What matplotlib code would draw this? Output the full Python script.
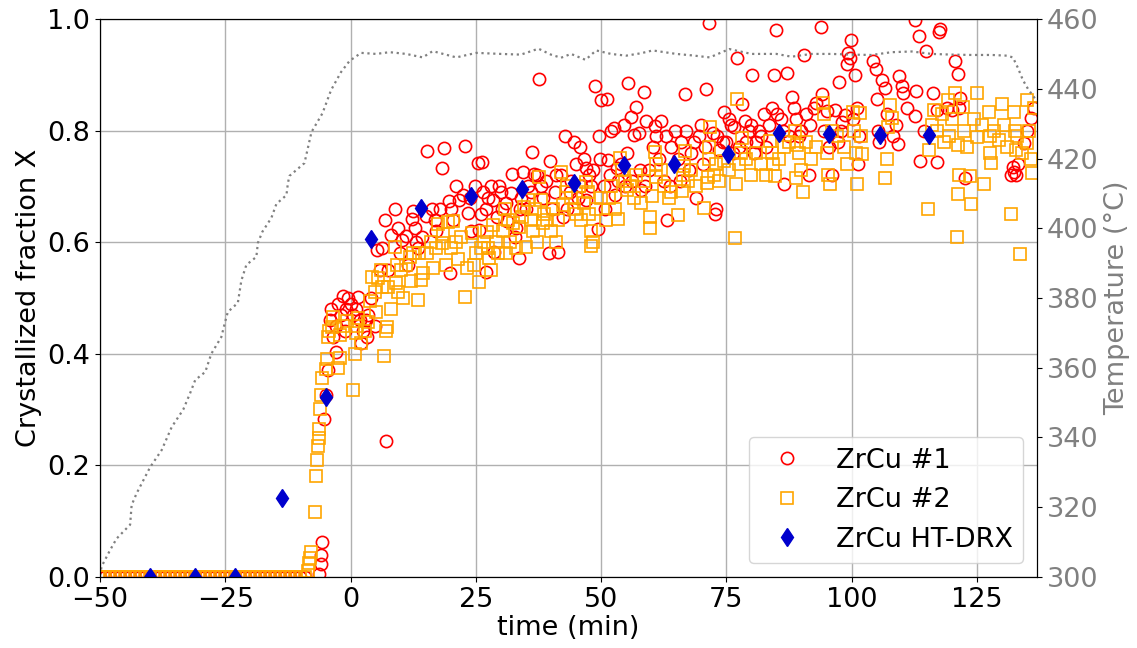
import matplotlib
matplotlib.use('Agg')
import matplotlib.pyplot as plt

# ---------------- data ----------------
# pre-crystallisation baseline (X = 0) sampling times, both samples
base_t = [-50, -49, -48, -47, -46, -45, -44, -43, -42, -41,
          -40, -39, -38, -37, -36, -35, -34, -33, -32, -31,
          -30, -29, -28, -27, -26, -25, -24, -23, -22, -21,
          -20, -19, -18, -17, -16, -15, -14, -13, -12, -11,
          -10, -9]

# ZrCu #1
red_t = [-6.2, -6.0, -5.9, -5.8, -5.3, -5.0, -4.5, -4.2, -4.0, -3.5,
         -3.0, -2.9, -2.5, -2.0, -1.6, -1.2, -1.0, -0.5, 0.0, 0.5,
         1.0, 1.4, 1.8, 2.4, 3.0, 3.5, 4.0, 4.8, 5.2, 6.2,
         6.8, 7.1, 7.5, 8.0, 8.8, 9.4, 10.2, 11.0, 11.5, 12.2,
         12.4, 12.8, 13.5, 14.2, 15.0, 15.2, 16.3, 17.0, 18.3, 18.6,
         19.6, 19.8, 20.5, 21.7, 22.4, 22.9, 23.4, 24.0, 24.8, 25.4,
         25.7, 26.3, 26.5, 27.0, 27.1, 27.5, 28.0, 28.5, 28.7, 29.2,
         30.0, 30.3, 31.3, 32.1, 32.3, 32.8, 33.1, 33.7, 33.9, 34.5,
         35.5, 36.3, 36.7, 37.7, 38.5, 39.1, 39.7, 39.9, 40.3, 41.1,
         41.5, 42.5, 42.9, 43.3, 43.7, 44.5, 45.0, 45.7, 46.0, 46.9,
         47.0, 48.0, 48.7, 49.3, 49.5, 50.0, 50.5, 50.7, 51.1, 51.3,
         52.0, 52.5, 52.8, 53.1, 53.3, 54.5, 55.1, 55.3, 56.0, 56.5,
         57.0, 57.5, 57.7, 58.0, 58.5, 58.7, 59.0, 60.3, 60.8, 61.5,
         62.0, 62.5, 63.1, 63.7, 64.7, 65.3, 66.0, 66.7, 67.5, 68.0,
         69.0, 69.5, 70.0, 70.7, 71.0, 71.5, 72.3, 72.8, 73.0, 73.5,
         74.3, 74.6, 75.5, 76.0, 76.6, 77.2, 77.6, 78.2, 78.8, 79.5,
         80.2, 80.5, 81.0, 81.6, 82.5, 83.0, 84.2, 84.5, 85.0, 85.2,
         86.0, 86.6, 87.1, 87.5, 88.2, 89.0, 90.0, 90.5, 91.0, 91.5,
         92.5, 93.0, 93.9, 94.0, 95.0, 96.0, 96.6, 97.2, 97.4, 98.0,
         98.6, 99.0, 99.3, 99.6, 99.9, 100.6, 101.0, 101.3, 101.5, 104.2,
         104.8, 105.0, 105.2, 105.5, 106.0, 106.6, 107.0, 108.2, 108.8, 109.2,
         109.4, 110.0, 110.3, 111.0, 112.6, 112.6, 112.9, 113.4, 113.6, 114.5,
         114.9, 116.2, 117.0, 117.0, 117.4, 117.6, 119.0, 120.0, 120.6, 121.2,
         121.4, 121.6, 122.6, 131.9, 132.2, 132.5, 132.9, 133.3, 134.5, 135.0,
         135.9, 136.5,
         2.0, 3.2, 5.8, 9.8, 13.0, 16.8, 17.8, 20.0, 21.0, 23.8,
         26.0, 29.6, 31.0, 34.0, 35.0, 36.0, 37.2, 38.0, 40.8, 42.0,
         44.0, 45.3, 46.5, 47.5, 48.4, 49.8, 51.8, 54.0, 54.8, 56.2,
         59.5, 61.0, 63.0, 64.0, 65.8, 67.0, 68.5, 70.3, 73.2, 75.0,
         76.3, 79.0, 80.0, 82.0, 83.5, 86.3, 88.6, 89.6, 91.8, 94.5,
         95.5, 97.8, 100.2]
red_x = [0.005, 0.023, 0.039, 0.063, 0.284, 0.326, 0.371, 0.46, 0.48, 0.43,
         0.45, 0.404, 0.49, 0.47, 0.503, 0.44, 0.48, 0.50, 0.49, 0.47,
         0.48, 0.502, 0.46, 0.44, 0.46, 0.47, 0.50, 0.45, 0.586, 0.59,
         0.64, 0.244, 0.55, 0.613, 0.66, 0.625, 0.604, 0.611, 0.56, 0.642,
         0.656, 0.626, 0.59, 0.61, 0.647, 0.763, 0.66, 0.62, 0.733, 0.769,
         0.673, 0.545, 0.64, 0.675, 0.685, 0.772, 0.652, 0.62, 0.70, 0.742,
         0.622, 0.743, 0.69, 0.66, 0.547, 0.68, 0.70, 0.675, 0.583, 0.645,
         0.69, 0.66, 0.638, 0.688, 0.722, 0.61, 0.625, 0.571, 0.66, 0.726,
         0.70, 0.761, 0.722, 0.892, 0.68, 0.71, 0.581, 0.745, 0.66, 0.72,
         0.583, 0.645, 0.79, 0.66, 0.69, 0.78, 0.74, 0.77, 0.70, 0.733,
         0.675, 0.70, 0.88, 0.623, 0.79, 0.855, 0.70, 0.659, 0.857, 0.747,
         0.80, 0.805, 0.685, 0.733, 0.71, 0.81, 0.76, 0.885, 0.825, 0.793,
         0.842, 0.796, 0.73, 0.694, 0.87, 0.70, 0.818, 0.77, 0.808, 0.75,
         0.818, 0.71, 0.64, 0.70, 0.80, 0.75, 0.78, 0.866, 0.73, 0.76,
         0.68, 0.79, 0.81, 0.77, 0.875, 0.993, 0.795, 0.65, 0.66, 0.765,
         0.78, 0.834, 0.82, 0.81, 0.807, 0.93, 0.77, 0.848, 0.817, 0.80,
         0.90, 0.76, 0.78, 0.80, 0.83, 0.77, 0.84, 0.90, 0.981, 0.83,
         0.82, 0.705, 0.904, 0.79, 0.86, 0.82, 0.80, 0.935, 0.83, 0.72,
         0.84, 0.85, 0.986, 0.865, 0.835, 0.72, 0.837, 0.78, 0.887, 0.815,
         0.828, 0.92, 0.94, 0.93, 0.962, 0.90, 0.84, 0.74, 0.79, 0.925,
         0.91, 0.856, 0.80, 0.78, 0.89, 0.876, 0.83, 0.79, 0.81, 0.776,
         0.898, 0.88, 0.867, 0.84, 0.826, 0.998, 0.871, 0.97, 0.745, 0.80,
         0.942, 0.868, 0.837, 0.743, 0.977, 0.982, 0.84, 0.837, 0.925, 0.902,
         0.84, 0.858, 0.716, 0.72, 0.734, 0.725, 0.72, 0.74, 0.778, 0.80,
         0.823, 0.84,
         0.42, 0.43, 0.55, 0.58, 0.60, 0.64, 0.66, 0.66, 0.70, 0.68,
         0.65, 0.70, 0.67, 0.68, 0.66, 0.69, 0.72, 0.70, 0.69, 0.72,
         0.71, 0.68, 0.75, 0.72, 0.73, 0.75, 0.72, 0.74, 0.70, 0.71,
         0.73, 0.79, 0.79, 0.77, 0.71, 0.80, 0.78, 0.74, 0.79, 0.78,
         0.76, 0.78, 0.81, 0.79, 0.81, 0.80, 0.84, 0.79, 0.81, 0.80,
         0.77, 0.80, 0.82]

# ZrCu #2
orange_t = [-8.5, -8.2, -8.0, -7.8, -7.0, -6.85, -6.7, -6.5, -6.3, -6.2,
            -6.05, -5.85, -5.7, -4.85, -4.7, -4.5, -4.3, -3.8, -3.6, -2.5,
            -2.2, -2.2, -1.5, -0.8, 0.5, 0.8, 1.0, 1.2, 1.5, 3.5,
            3.8, 4.2, 4.8, 5.0, 5.4, 6.0, 6.6, 7.0, 7.2, 7.5,
            8.0, 8.8, 9.0, 9.5, 10.0, 10.4, 11.0, 11.8, 12.5, 13.4,
            13.6, 14.0, 14.5, 15.2, 16.4, 17.0, 17.4, 18.2, 18.5, 19.0,
            19.5, 20.4, 21.0, 21.5, 22.8, 23.2, 24.2, 25.1, 25.7, 26.0,
            27.3, 27.5, 27.7, 28.5, 29.0, 29.5, 30.5, 30.8, 31.5, 31.8,
            32.5, 33.0, 33.7, 34.2, 34.7, 35.1, 35.5, 36.0, 36.5, 37.3,
            37.7, 38.0, 38.4, 38.7, 40.0, 40.5, 41.0, 42.1, 42.5, 43.0,
            43.3, 44.0, 45.0, 45.5, 46.0, 47.0, 47.3, 47.6, 47.9, 48.0,
            48.3, 50.0, 51.0, 52.0, 53.4, 53.7, 54.2, 54.7, 55.1, 57.0,
            58.0, 59.7, 59.8, 60.2, 60.7, 60.9, 61.0, 62.5, 63.5, 65.3,
            66.1, 66.3, 66.5, 66.7, 68.0, 70.5, 71.1, 71.3, 71.5, 71.6,
            71.7, 73.0, 73.5, 74.5, 76.8, 77.0, 77.2, 77.5, 78.0, 78.2,
            80.0, 82.0, 83.8, 84.1, 84.4, 84.8, 86.5, 88.8, 89.0, 89.2,
            89.5, 90.0, 90.4, 92.0, 94.2, 94.5, 95.0, 95.3, 95.6, 97.0,
            98.5, 100.2, 100.5, 100.8, 101.0, 101.6, 101.8, 102.0, 106.6, 107.0,
            107.2, 107.6, 108.0, 115.2, 115.4, 116.0, 116.5, 117.0, 118.0, 118.5,
            119.2, 119.4, 120.0, 120.7, 121.0, 121.2, 121.2, 121.5, 122.2, 122.5,
            123.0, 123.6, 123.9, 124.5, 125.0, 125.0, 126.0, 126.5, 127.5, 127.6,
            127.7, 127.8, 128.5, 129.5, 130.0, 130.5, 131.0, 131.9, 132.5, 132.7,
            132.8, 133.0, 133.7, 134.0, 135.0, 135.1, 135.5, 135.8, 136.0, 136.5,
            2.0, 2.8, 6.3, 9.3, 12.0, 16.0, 20.0, 22.0, 24.6, 26.6,
            28.0, 31.0, 36.8, 39.3, 41.5, 44.5, 46.5, 49.0, 51.5, 52.7,
            55.7, 56.5, 58.5, 62.0, 64.0, 67.3, 69.0, 72.5, 75.5, 79.0,
            81.0, 83.0, 85.5, 87.5, 91.0, 93.0, 96.0, 99.0]
orange_x = [0.01, 0.025, 0.034, 0.045, 0.117, 0.181, 0.21, 0.235, 0.249, 0.265,
            0.301, 0.326, 0.357, 0.373, 0.39, 0.43, 0.44, 0.448, 0.466, 0.374,
            0.393, 0.434, 0.45, 0.459, 0.336, 0.40, 0.437, 0.45, 0.465, 0.457,
            0.495, 0.538, 0.51, 0.475, 0.536, 0.55, 0.396, 0.44, 0.448, 0.52,
            0.48, 0.592, 0.527, 0.51, 0.55, 0.50, 0.56, 0.574, 0.58, 0.496,
            0.581, 0.532, 0.545, 0.58, 0.553, 0.59, 0.633, 0.598, 0.615, 0.56,
            0.637, 0.638, 0.60, 0.57, 0.502, 0.553, 0.617, 0.58, 0.529, 0.59,
            0.618, 0.59, 0.571, 0.63, 0.60, 0.58, 0.62, 0.66, 0.64, 0.60,
            0.635, 0.59, 0.627, 0.645, 0.663, 0.591, 0.675, 0.64, 0.62, 0.60,
            0.717, 0.675, 0.634, 0.65, 0.62, 0.66, 0.60, 0.726, 0.667, 0.69,
            0.70, 0.68, 0.65, 0.70, 0.64, 0.708, 0.69, 0.65, 0.62, 0.593,
            0.60, 0.68, 0.64, 0.70, 0.642, 0.751, 0.73, 0.71, 0.694, 0.72,
            0.67, 0.626, 0.645, 0.682, 0.762, 0.74, 0.717, 0.70, 0.68, 0.649,
            0.692, 0.72, 0.737, 0.764, 0.73, 0.661, 0.706, 0.717, 0.75, 0.77,
            0.806, 0.74, 0.71, 0.745, 0.607, 0.704, 0.857, 0.74, 0.76, 0.787,
            0.72, 0.74, 0.781, 0.76, 0.74, 0.718, 0.77, 0.80, 0.715, 0.775,
            0.76, 0.73, 0.69, 0.75, 0.849, 0.83, 0.76, 0.72, 0.705, 0.79,
            0.77, 0.833, 0.80, 0.76, 0.705, 0.832, 0.79, 0.758, 0.715, 0.75,
            0.807, 0.846, 0.823, 0.659, 0.765, 0.81, 0.837, 0.80, 0.83, 0.78,
            0.855, 0.79, 0.82, 0.868, 0.609, 0.686, 0.774, 0.72, 0.842, 0.80,
            0.77, 0.718, 0.668, 0.82, 0.867, 0.789, 0.81, 0.705, 0.833, 0.79,
            0.76, 0.742, 0.80, 0.783, 0.848, 0.81, 0.77, 0.651, 0.833, 0.80,
            0.765, 0.79, 0.579, 0.76, 0.778, 0.855, 0.80, 0.75, 0.724, 0.84,
            0.42, 0.44, 0.52, 0.56, 0.53, 0.60, 0.59, 0.61, 0.56, 0.60,
            0.55, 0.58, 0.66, 0.64, 0.64, 0.66, 0.67, 0.66, 0.68, 0.66,
            0.70, 0.68, 0.71, 0.73, 0.69, 0.71, 0.70, 0.72, 0.73, 0.75,
            0.76, 0.72, 0.75, 0.78, 0.78, 0.77, 0.80, 0.74]

# ZrCu HT-DRX
drx_t = [-40, -31, -23, -13.7, -5.0, 4.0, 14.0, 24.1, 34.3, 44.5,
         54.5, 64.5, 75.3, 85.6, 95.5, 105.6, 115.4]
drx_x = [0.0, 0.0, 0.0, 0.141, 0.322, 0.605, 0.661, 0.683, 0.695, 0.707,
         0.738, 0.741, 0.758, 0.796, 0.794, 0.792, 0.792]

# Temperature programme
temp_t = [-50, -49.7, -48, -46.7, -44, -43.7, -42.7, -40, -37.7, -35.7,
          -33.4, -32, -31, -29, -27.8, -25.8, -25.1, -24.5, -22.5, -21.8,
          -20.8, -18.8, -18.5, -17.6, -15.8, -14.8, -12.8, -12.5, -12.2, -9.2,
          -7.8, -5.6, -3.9, -1.9, -0.2, 2.1, 5.1, 7.8, 11.1, 14.4,
          16.4, 21.1, 25.1, 30, 34, 37.5, 40, 42, 44, 46.9,
          49, 52, 55, 58, 60.3, 65, 68, 71.7, 75.6, 80,
          85, 88, 92, 96, 100, 104, 108, 112, 116, 120,
          124, 128, 131, 132.2, 133.2, 134.2, 135.2, 136.2, 137]
temp_c = [300.5, 303, 307.7, 311, 315, 320.6, 324, 331.5, 336.4, 343,
          348, 352.8, 356.5, 358.8, 364, 368.8, 372.8, 376, 378.6, 385,
          389.5, 391.8, 395.8, 399, 403, 407, 409.5, 413, 415, 418.7,
          427.6, 433, 439.6, 444.8, 448, 450.3, 450, 450.5, 450, 449,
          450.8, 449, 450.3, 450, 449.8, 451.5, 449.8, 448.9, 450, 448.3,
          451, 450, 449.5, 450.2, 451, 450, 449.6, 449, 451.4, 450,
          450, 449.2, 450, 450, 449.8, 449.7, 450.5, 450.7, 450, 449.8,
          449.7, 449.7, 449.5, 449, 446, 442.5, 440, 438, 436.5]

# ---------------- figure ----------------
plt.rcParams['font.family'] = ['DejaVu Sans']
plt.rcParams['font.size'] = 19.5

fig = plt.figure(figsize=(11.37, 6.48), dpi=100)
ax = fig.add_axes([0.088, 0.1096, 0.824, 0.861])
ax2 = ax.twinx()

t1 = base_t + red_t
x1 = [0.0] * len(base_t) + red_x
t2 = base_t + orange_t
x2 = [0.0] * len(base_t) + orange_x

ax.plot(t1, x1, 'o', ls='none', mfc='none', mec='red', ms=8.8, mew=1.2,
        label='ZrCu #1')
ax.plot(t2, x2, 's', ls='none', mfc='none', mec='orange', ms=8.0, mew=1.2,
        label='ZrCu #2')
ax.plot(drx_t, drx_x, 'd', ls='none', color='mediumblue', ms=9.5,
        label='ZrCu HT-DRX')

ax2.plot(temp_t, temp_c, ls=':', color='gray', lw=1.6)

ax.set_xlim(-50, 137)
ax.set_ylim(0, 1)
ax2.set_ylim(300, 460)
ax2.set_yticks(range(300, 461, 20))

ax.grid(True, color='#b0b0b0', lw=1.0)
ax.set_xlabel('time (min)', labelpad=2)
ax.set_ylabel('Crystallized fraction X')
ax2.set_ylabel('Temperature (°C)', color='gray')
ax2.tick_params(axis='y', labelcolor='gray')

ax.legend(loc='lower right')

fig.savefig('out.png', dpi=100)
